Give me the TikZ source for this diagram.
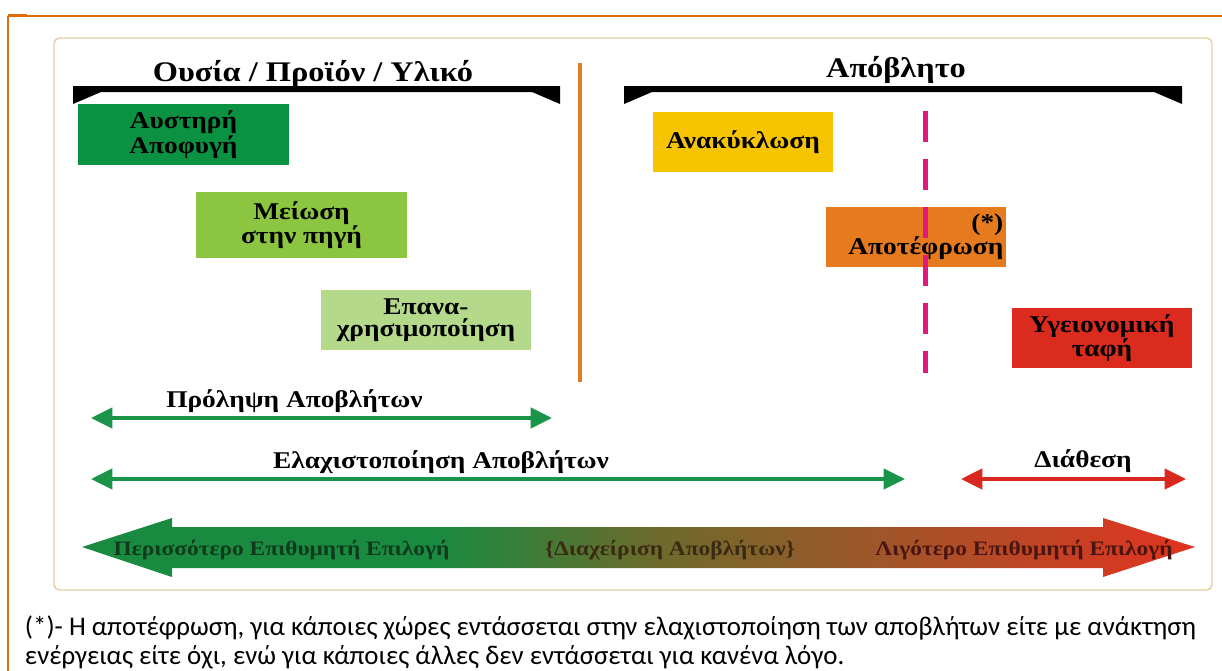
\documentclass[tikz,border=0pt]{standalone}
\usepackage{fontspec}
\setmainfont[FakeStretch=1.14]{Liberation Serif}
\newfontfamily\notefont{Carlito}
\usetikzlibrary{arrows.meta}

\definecolor{frameorange}{HTML}{E36C0A}
\definecolor{panelborder}{HTML}{E6CC9E}
\definecolor{dividerorange}{HTML}{E47D22}
\definecolor{dashmagenta}{HTML}{E0197D}
\definecolor{avoidgreen}{HTML}{0A9142}
\definecolor{reducegreen}{HTML}{8CC53F}
\definecolor{reusegreen}{HTML}{B4D98B}
\definecolor{recycleyellow}{HTML}{F6C400}
\definecolor{burnorange}{HTML}{E67A1E}
\definecolor{landfillred}{HTML}{DB2A1E}
\definecolor{spangreen}{HTML}{1A9449}
\definecolor{spanred}{HTML}{D9291F}
\definecolor{gradgreen}{HTML}{1A8A40}
\definecolor{gradolive}{HTML}{6F6A2C}
\definecolor{gradbrown}{HTML}{A0552A}
\definecolor{gradred}{HTML}{E2321F}
\definecolor{txtgreen}{HTML}{0F3A1B}
\definecolor{txtbrown}{HTML}{3A2A12}
\definecolor{txtred}{HTML}{4A1510}

% colour run of the long priority arrow (path box spans 25bp..75bp)
\pgfdeclarehorizontalshading{priorityrun}{100bp}{%
  color(0bp)=(gradgreen); color(25bp)=(gradgreen); color(41bp)=(gradgreen);
  color(51bp)=(gradolive); color(61bp)=(gradbrown); color(75bp)=(gradred);
  color(100bp)=(gradred)}

\begin{document}
\begin{tikzpicture}[x=0.75pt,y=-0.75pt,
  every node/.style={inner sep=0pt, outer sep=0pt},
  ttl/.style={font=\bfseries\fontsize{21.3}{24}\selectfont, anchor=base},
  stagebox/.style={align=center, font=\bfseries\fontsize{18}{16.5}\selectfont, text=black},
  lbl/.style={font=\bfseries\fontsize{18}{20}\selectfont, anchor=base},
  span/.style={line width=3pt, {Triangle[length=16pt,width=15pt]}-{Triangle[length=16pt,width=15pt]}},
  bigtxt/.style={font=\bfseries\fontsize{15.4}{17}\selectfont, anchor=base},
  note/.style={font=\notefont\fontsize{20.2}{24}\selectfont, anchor=base west},
  bracket/.style={fill=black}
]
\useasboundingbox (0,0) rectangle (1222,671);

% outer page frame
\draw[frameorange, line width=0.9pt] (8,16) -- (1222,16);
\draw[frameorange, line width=1.5pt] (8,15.5) -- (8,671);
\draw[frameorange, line width=1.9pt] (8,15.6) -- (27,15.6);

% inner panel
\draw[panelborder, line width=1.1pt, rounded corners=4pt] (54,38) rectangle (1212,590);

% heading brackets
\fill[bracket] (73,86) -- (560,86) -- (560,104) -- (532,92) -- (101,92) -- (73,104) -- cycle;
\fill[bracket] (624,86) -- (1182,86) -- (1182,104) -- (1154,92) -- (652,92) -- (624,104) -- cycle;
\node[ttl] (substance) at (313,81) {Ουσία / Προϊόν / Υλικό};
\node[ttl] (waste) at (896,77) {Απόβλητο};

% divider between product side and waste side
\draw[dividerorange, line width=3pt] (580,63) -- (580,382);

% hierarchy stages
\node[stagebox, fill=avoidgreen, minimum width=158.25pt, minimum height=45.75pt] (avoid) at (183.5,134.5) {Αυστηρή\\Αποφυγή};
\node[stagebox, fill=reducegreen, minimum width=158.25pt, minimum height=49.5pt] (reduce) at (301.5,225) {Μείωση\\στην πηγή};
\node[stagebox, fill=reusegreen, minimum width=157.5pt, minimum height=45pt] (reuse) at (426,320) {Επανα-\\χρησιμοποίηση};
\node[stagebox, fill=recycleyellow, minimum width=135pt, minimum height=45pt] (recycle) at (743,142) {Ανακύκλωση};
\node[stagebox, fill=burnorange, minimum width=135pt, minimum height=45pt] (burnbox) at (916,237) {};
\node[stagebox, fill=landfillred, minimum width=135pt, minimum height=45pt] (landfill) at (1102,338) {Υγειονομική\\ταφή};

% dashed boundary through incineration
\coordinate (dashtop) at (925,111);
\coordinate (dashbot) at (925,373);
\draw[dashmagenta, line width=3.75pt, dash pattern=on 23.25pt off 12.75pt] (dashtop) -- (dashbot);
\node[stagebox, align=right, anchor=east] (burn) at ([xshift=-2pt]burnbox.east) {(*)\\Αποτέφρωση};

% spans
\coordinate (prevL) at (91,418);
\coordinate (prevR) at (552,418);
\draw[span, spangreen] (prevL) -- (prevR);
\node[lbl] (prevention) at (294.5,407) {Πρόληψη Αποβλήτων};

\coordinate (minL) at (91,479);
\coordinate (minR) at (905,479);
\draw[span, spangreen] (minL) -- (minR);
\node[lbl] (minimisation) at (441,468) {Ελαχιστοποίηση Αποβλήτων};

\coordinate (dispL) at (961,479);
\coordinate (dispR) at (1186,479);
\draw[span, spanred] (dispL) -- (dispR);
\node[lbl] (disposal) at (1083,467) {Διάθεση};

% priority arrow
\shade[shading=priorityrun] (82,547) -- (172,518) -- (172,527) -- (1103,527) -- (1103,518)
  -- (1195,547) -- (1103,577) -- (1103,568) -- (172,568) -- (172,577) -- cycle;
\node[bigtxt, text=txtgreen] (more) at (281.5,555) {Περισσότερο Επιθυμητή Επιλογή};
\node[bigtxt, text=txtbrown] (manage) at (670,555) {\{Διαχείριση Αποβλήτων\}};
\node[bigtxt, text=txtred] (less) at (1024,555) {Λιγότερο Επιθυμητή Επιλογή};

% footnote
\node[note] (note1) at (25,635) {(*)- Η αποτέφρωση, για κάποιες χώρες εντάσσεται στην ελαχιστοποίηση των αποβλήτων είτε με ανάκτηση};
\node[note] (note2) at (25,664) {ενέργειας είτε όχι, ενώ για κάποιες άλλες δεν εντάσσεται για κανένα λόγο.};
\end{tikzpicture}
\end{document}
